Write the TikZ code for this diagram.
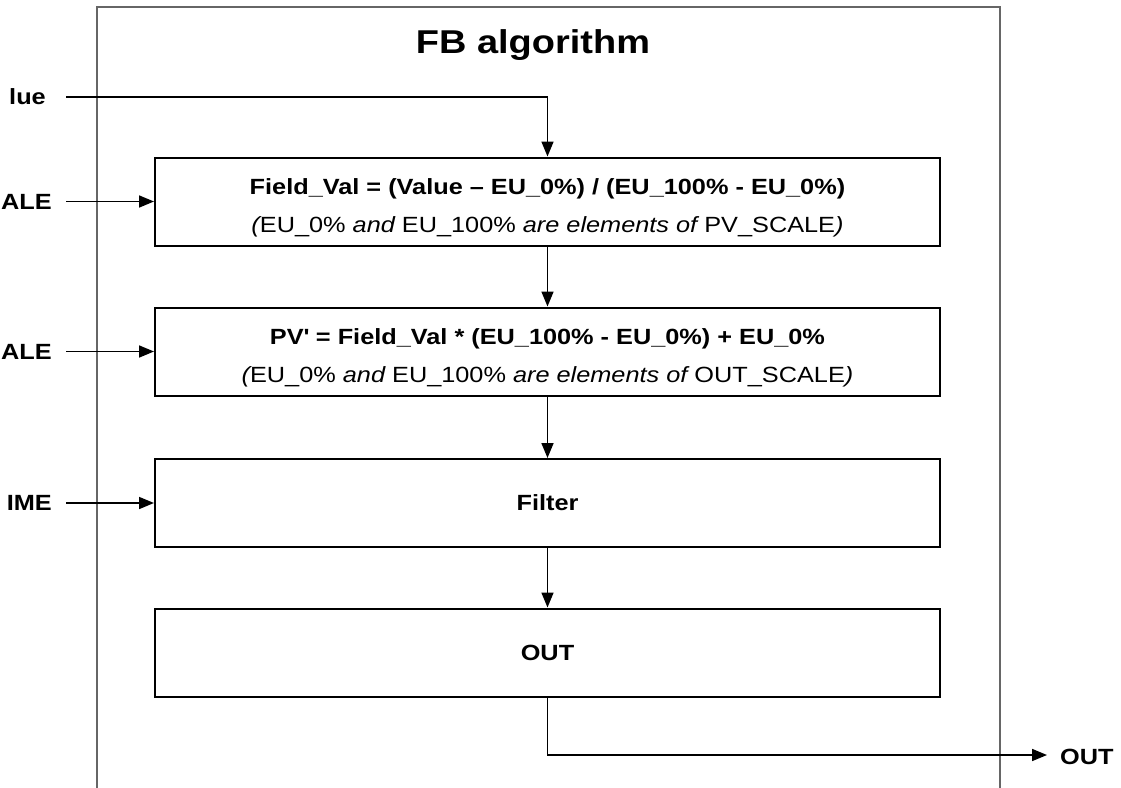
\documentclass[tikz,border=0pt]{standalone}
\usepackage{fontspec}
\setmainfont[FakeStretch=1.15]{Liberation Sans}
\usetikzlibrary{arrows.meta}
\tikzset{
  blk/.style={draw=black, line width=2pt, minimum width=785pt, minimum height=88pt, inner sep=0pt, align=center, font=\fontsize{22}{38}\selectfont},
  arr/.style={line width=1.7pt, -{Triangle[length=15pt,width=12pt]}},
  lbl/.style={font=\fontsize{22}{25}\selectfont\bfseries, inner sep=0pt},
  frame/.style={draw=black!60, line width=2.6pt}
}
\newcommand{\upstrut}{\rule{0pt}{28pt}}
\begin{document}
\begin{tikzpicture}[x=1pt,y=-1pt]
\useasboundingbox (0,0) rectangle (1121,787);
% outer frame (open at the bottom)
\draw[frame] (97,790) -- (97,7) -- (1000,7) -- (1000,790);
\node[font=\fontsize{33}{38}\selectfont\bfseries] (title) at (533,45) {FB algorithm};
% blocks
\node[blk] (b1) at (547.5,201.5) {\upstrut\textbf{Field\_Val = (Value -- EU\_0\%) / (EU\_100\% - EU\_0\%)}\\
  {\itshape (}EU\_0\% {\itshape and} EU\_100\% {\itshape are elements of} PV\_SCALE{\itshape )}};
\node[blk] (b2) at (547.5,351.5) {\upstrut\textbf{PV\textquotesingle{} = Field\_Val * (EU\_100\% - EU\_0\%) + EU\_0\%}\\
  {\itshape (}EU\_0\% {\itshape and} EU\_100\% {\itshape are elements of} OUT\_SCALE{\itshape )}};
\node[blk] (b3) at (547.5,503) {\textbf{Filter}};
\node[blk] (b4) at (547.5,652.5) {\textbf{OUT}};
% inputs
\node[lbl, anchor=east] (lv) at (46,97) {lue};
\node[lbl, anchor=east] (l1) at (52,202) {ALE};
\node[lbl, anchor=east] (l2) at (52,352) {ALE};
\node[lbl, anchor=east] (l3) at (52,503) {IME};
\coordinate (vin) at (66,97);
\coordinate (s1) at (66,201.5);
\coordinate (s2) at (66,351.5);
\coordinate (s3) at (66,503);
\draw[arr] (vin) -| (b1.north);
\draw[arr] (s1) -- (b1.west);
\draw[arr] (s2) -- (b2.west);
\draw[arr] (s3) -- (b3.west);
% chain
\draw[arr] (b1.south) -- (b2.north);
\draw[arr] (b2.south) -- (b3.north);
\draw[arr] (b3.south) -- (b4.north);
% output
\coordinate (oend) at (1047,755);
\node[lbl, anchor=west] (lout) at (1060,757) {OUT};
\draw[arr] (b4.south) |- (oend);
\end{tikzpicture}
\end{document}
